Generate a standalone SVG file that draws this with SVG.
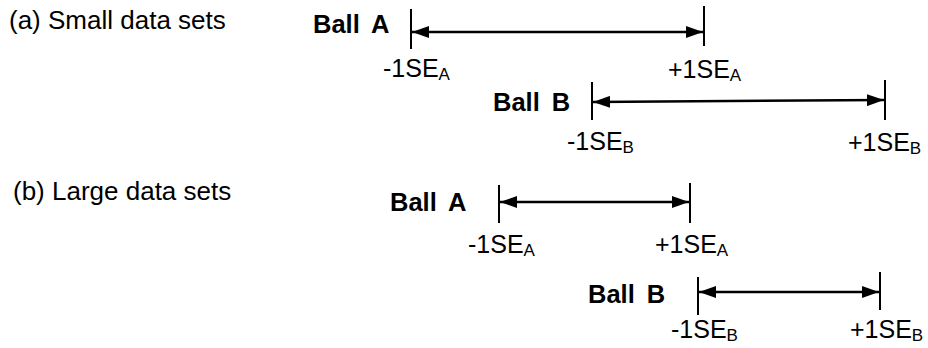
<svg xmlns="http://www.w3.org/2000/svg" width="928" height="348" viewBox="0 0 928 348">
<style>
.title{font-family:"Liberation Sans",Arial,sans-serif;font-size:26px;fill:#000}
.ball{font-family:"Liberation Sans",Arial,sans-serif;font-size:25.5px;font-weight:bold;fill:#000;word-spacing:5px}
.lbl{font-family:"Liberation Sans",Arial,sans-serif;font-size:25px;fill:#000}
.sub{font-size:17px;baseline-shift:-3px}
.tick{stroke:#000;stroke-width:2}
.bar{stroke:#000;stroke-width:2.5;fill:none}
</style>
<defs>
<marker id="ah" viewBox="0 0 17 12" refX="17" refY="6" markerWidth="17" markerHeight="12" markerUnits="userSpaceOnUse" orient="auto-start-reverse">
<path d="M0,0 L17,6 L0,12 Z" fill="#000"/>
</marker>
</defs>
<rect width="928" height="348" fill="#fff"/>
<text class="title" x="9" y="29">(a) Small data sets</text>
<text class="title" x="13" y="200">(b) Large data sets</text>
<g id="a-ballA">
<text class="ball" x="313" y="33">Ball A</text>
<line class="tick" x1="411" y1="9" x2="411" y2="49"/>
<line class="tick" x1="704" y1="6" x2="704" y2="46"/>
<text class="lbl" x="383" y="77">-1SE<tspan class="sub">A</tspan></text>
<text class="lbl" x="668" y="78">+1SE<tspan class="sub">A</tspan></text>
</g>
<g id="a-ballB">
<text class="ball" x="493" y="111">Ball B</text>
<line class="tick" x1="592" y1="82" x2="592" y2="120"/>
<line class="tick" x1="885" y1="80" x2="885" y2="120"/>
<text class="lbl" x="567" y="150">-1SE<tspan class="sub">B</tspan></text>
<text class="lbl" x="848" y="151">+1SE<tspan class="sub">B</tspan></text>
</g>
<g id="b-ballA">
<text class="ball" x="390" y="211">Ball A</text>
<line class="tick" x1="499" y1="185" x2="499" y2="223"/>
<line class="tick" x1="690" y1="183" x2="690" y2="223"/>
<text class="lbl" x="468" y="253">-1SE<tspan class="sub">A</tspan></text>
<text class="lbl" x="655" y="253">+1SE<tspan class="sub">A</tspan></text>
</g>
<g id="b-ballB">
<text class="ball" x="588" y="303">Ball B</text>
<line class="tick" x1="698" y1="277" x2="698" y2="315"/>
<line class="tick" x1="880" y1="272" x2="880" y2="310"/>
<text class="lbl" x="671" y="338">-1SE<tspan class="sub">B</tspan></text>
<text class="lbl" x="850" y="338">+1SE<tspan class="sub">B</tspan></text>
</g>
<g id="connectors">
<line class="bar" x1="412" y1="32" x2="703" y2="32" marker-start="url(#ah)" marker-end="url(#ah)"/>
<line class="bar" x1="593" y1="102" x2="884" y2="100" marker-start="url(#ah)" marker-end="url(#ah)"/>
<line class="bar" x1="500" y1="202" x2="689" y2="202" marker-start="url(#ah)" marker-end="url(#ah)"/>
<line class="bar" x1="699" y1="292" x2="879" y2="292" marker-start="url(#ah)" marker-end="url(#ah)"/>
</g>
</svg>
